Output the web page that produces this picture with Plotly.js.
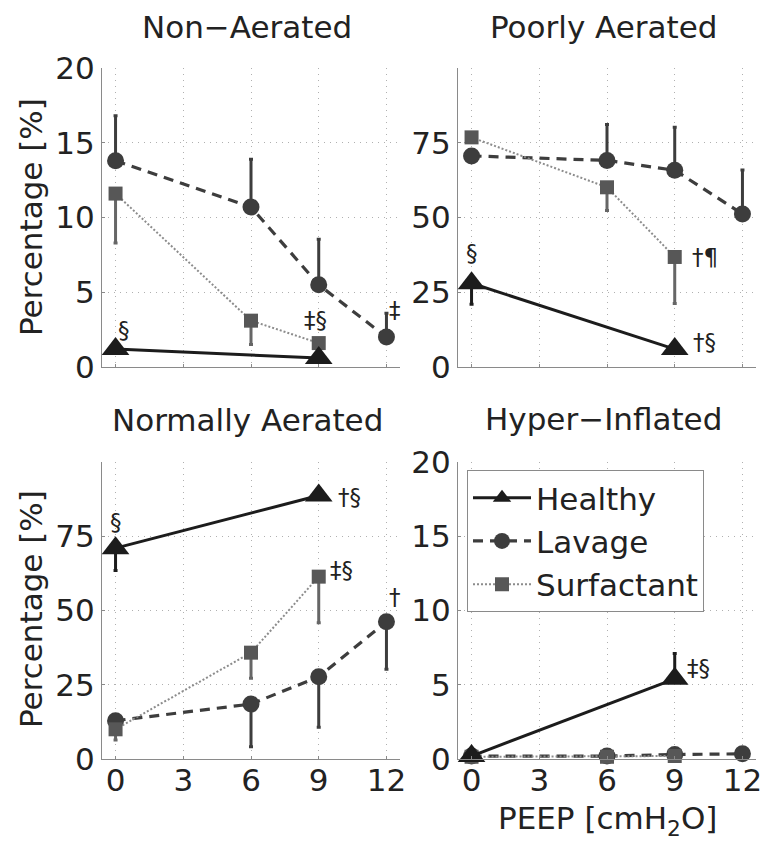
<!DOCTYPE html>
<html>
<head>
<meta charset="utf-8">
<script src="https://cdn.plot.ly/plotly-3.0.1.min.js"></script>
<style>html,body{margin:0;padding:0;background:#fff;}#chart{width:765px;height:850px;}</style>
</head>
<body>
<div id="chart"></div>
<script>
// ---------- DATA ----------
const peepLavage = [0, 6, 9, 12];
const peepSurf = [0, 6, 9];
const peepHealthy = [0, 9];
const xTickVals = [0, 3, 6, 9, 12];
const xTickText = ['0', '3', '6', '9', '12'];
const panelTitles = ['Non\u2212Aerated', 'Poorly Aerated', 'Normally Aerated', 'Hyper\u2212Inflated'];
const seriesNames = ['Healthy', 'Lavage', 'Surfactant'];

// Non-Aerated
const naHealthy = [1.2, 0.6];
const naHealthyUp = [0, 0];
const naHealthyDown = [0, 0];
const naLavage = [13.8, 10.7, 5.5, 2.0];
const naLavageUp = [3.0, 3.2, 3.05, 1.6];
const naLavageDown = [0, 0, 0, 0];
const naSurf = [11.6, 3.1, 1.6];
const naSurfUp = [0, 0, 0];
const naSurfDown = [3.3, 1.6, 0];

// Poorly Aerated
const paHealthy = [28, 6];
const paHealthyUp = [0, 0];
const paHealthyDown = [7, 0];
const paLavage = [70.6, 69.1, 65.8, 51.2];
const paLavageUp = [0, 12, 14.4, 14.7];
const paLavageDown = [0, 0, 0, 0];
const paSurf = [76.8, 60.1, 36.8];
const paSurfUp = [0, 0, 0];
const paSurfDown = [0, 7.8, 15.6];

// Normally Aerated
const nHealthy = [71, 88.7];
const nHealthyUp = [0, 0];
const nHealthyDown = [7.5, 0];
const nLavage = [12.9, 18.5, 27.7, 46.2];
const nLavageUp = [0, 0, 0, 0];
const nLavageDown = [0, 14.4, 17, 16];
const nSurf = [10, 35.8, 61.4];
const nSurfUp = [0, 0, 0];
const nSurfDown = [3.6, 8.6, 15.5];

// Hyper-Inflated
const hHealthy = [0.2, 5.4];
const hHealthyUp = [0, 1.7];
const hHealthyDown = [0, 0];
const hLavage = [0.2, 0.2, 0.3, 0.35];
const hLavageUp = [0, 0, 0, 0];
const hLavageDown = [0, 0, 0, 0];
const hSurf = [0.15, 0.15, 0.2];
const hSurfUp = [0, 0, 0];
const hSurfDown = [0, 0, 0];

// significance marks: [panel, x, y, text]
const sigPanel = [1, 1, 1, 1, 2, 2, 2, 3, 3, 3, 3, 4];
const sigX = [0.37, 8.84, 9.63, 12.38, 0.02, 10.34, 10.34, 0.0, 10.38, 10.03, 12.38, 10.04];
const sigY = [2.47, 3.14, -1.07, 3.8, 38.2, 36.9, 8.4, 79.8, 88.2, 63.6, 54.5, 6.1];
const sigText = ['\u00a7', '\u2021\u00a7', '\u2020\u00a7', '\u2021', '\u00a7', '\u2020\u00b6', '\u2020\u00a7', '\u00a7', '\u2020\u00a7', '\u2021\u00a7', '\u2020', '\u2021\u00a7'];

// ---------- STYLE ----------
const FONT = 'DejaVu Sans, Liberation Sans, Arial, sans-serif';
const FS = 31;
const TXT = '#222222';
const cHealthy = '#1c1c1c', cLavage = '#3d3d3d', cSurf = '#575757', cSurfLine = '#8c8c8c';

const panels = [
  {h: naHealthy, hu: naHealthyUp, hd: naHealthyDown, l: naLavage, lu: naLavageUp, ld: naLavageDown, s: naSurf, su: naSurfUp, sd: naSurfDown},
  {h: paHealthy, hu: paHealthyUp, hd: paHealthyDown, l: paLavage, lu: paLavageUp, ld: paLavageDown, s: paSurf, su: paSurfUp, sd: paSurfDown},
  {h: nHealthy, hu: nHealthyUp, hd: nHealthyDown, l: nLavage, lu: nLavageUp, ld: nLavageDown, s: nSurf, su: nSurfUp, sd: nSurfDown},
  {h: hHealthy, hu: hHealthyUp, hd: hHealthyDown, l: hLavage, lu: hLavageUp, ld: hLavageDown, s: hSurf, su: hSurfUp, sd: hSurfDown}
];

const traces = [];
panels.forEach((p, i) => {
  const sfx = i === 0 ? '' : String(i + 1);
  const xa = 'x' + sfx, ya = 'y' + sfx;
  const show = i === 3;
  traces.push({
    type: 'scatter', mode: 'lines+markers', x: peepLavage, y: p.l, xaxis: xa, yaxis: ya,
    name: seriesNames[1], showlegend: show, legendrank: 2, cliponaxis: false,
    line: {color: cLavage, width: 3.2, dash: '10px,7px'},
    marker: {symbol: 'circle', size: 17, color: cLavage},
    error_y: {type: 'data', symmetric: false, array: p.lu, arrayminus: p.ld, color: cLavage, thickness: 3, width: 2}
  });
  traces.push({
    type: 'scatter', mode: 'lines+markers', x: peepSurf, y: p.s, xaxis: xa, yaxis: ya,
    name: seriesNames[2], showlegend: show, legendrank: 3, cliponaxis: false,
    line: {color: cSurfLine, width: 2, dash: '2px,2px'},
    marker: {symbol: 'square', size: 14, color: cSurf},
    error_y: {type: 'data', symmetric: false, array: p.su, arrayminus: p.sd, color: '#666666', thickness: 3, width: 2}
  });
  traces.push({
    type: 'scatter', mode: 'lines+markers', x: peepHealthy, y: p.h, xaxis: xa, yaxis: ya,
    name: seriesNames[0], showlegend: show, legendrank: 1, cliponaxis: false,
    line: {color: cHealthy, width: 3},
    marker: {symbol: 'triangle-up', size: 24, color: cHealthy},
    error_y: {type: 'data', symmetric: false, array: p.hu, arrayminus: p.hd, color: cHealthy, thickness: 3, width: 2}
  });
});

function xax(domain, labels) {
  return {
    domain: domain, range: [-0.6, 12.6], tickvals: xTickVals, ticktext: xTickText,
    showticklabels: labels, showline: true, linecolor: '#8a8a8a', linewidth: 1, mirror: false,
    zeroline: false, showgrid: true, gridcolor: '#b0b0b0', griddash: '1px,5px', gridwidth: 1,
    ticks: 'inside', ticklen: 3, tickcolor: '#8a8a8a', ticklabelstandoff: -6,
    tickfont: {family: FONT, size: FS, color: TXT}, fixedrange: true
  };
}
function yax(domain, range, ticks, anchor) {
  return {
    domain: domain, range: range, tickvals: ticks, ticktext: ticks.map(String), anchor: anchor,
    showline: true, linecolor: '#8a8a8a', linewidth: 1, mirror: false,
    zeroline: false, showgrid: true, gridcolor: '#b0b0b0', griddash: '1px,5px', gridwidth: 1,
    ticks: 'inside', ticklen: 3, tickcolor: '#8a8a8a',
    tickfont: {family: FONT, size: FS, color: TXT}, fixedrange: true
  };
}

const W = 765, H = 850;
const dL = [102 / W, 400 / W], dR = [458 / W, 756 / W];
const dT = [(H - 367) / H, (H - 68) / H], dB = [(H - 759) / H, (H - 462) / H];

const annotations = [];
const titlePos = [[247, 27.5], [603, 27.5], [247, 420], [603, 419]];
panelTitles.forEach((t, i) => {
  annotations.push({xref: 'paper', yref: 'paper', x: titlePos[i][0] / W, y: 1 - titlePos[i][1] / H,
    xanchor: 'center', yanchor: 'middle', text: t, showarrow: false,
    font: {family: FONT, size: FS, color: TXT}});
});
[[31, 217], [31, 609]].forEach(pos => {
  annotations.push({xref: 'paper', yref: 'paper', x: pos[0] / W, y: 1 - pos[1] / H,
    xanchor: 'center', yanchor: 'middle', text: 'Percentage [%]', textangle: -90, showarrow: false,
    font: {family: FONT, size: FS, color: TXT}});
});
annotations.push({xref: 'paper', yref: 'paper', x: 607 / W, y: 1 - 820 / H, xanchor: 'center', yanchor: 'middle',
  text: 'PEEP [cmH<sub>2</sub>O]', showarrow: false, font: {family: FONT, size: FS, color: TXT}});
sigText.forEach((t, i) => {
  const sfx = sigPanel[i] === 1 ? '' : String(sigPanel[i]);
  annotations.push({xref: 'x' + sfx, yref: 'y' + sfx, x: sigX[i], y: sigY[i], text: t,
    xanchor: 'center', yanchor: 'middle', showarrow: false,
    font: {family: FONT, size: 23, color: TXT}});
});

const layout = {
  width: W, height: H, margin: {l: 0, r: 0, t: 0, b: 0},
  paper_bgcolor: '#ffffff', plot_bgcolor: '#ffffff',
  font: {family: FONT, size: FS, color: TXT},
  xaxis: Object.assign(xax(dL, false), {anchor: 'y'}),
  xaxis2: Object.assign(xax(dR, false), {anchor: 'y2'}),
  xaxis3: Object.assign(xax(dL, true), {anchor: 'y3'}),
  xaxis4: Object.assign(xax(dR, true), {anchor: 'y4'}),
  yaxis: yax(dT, [0, 20], [0, 5, 10, 15, 20], 'x'),
  yaxis2: yax(dT, [0, 100], [0, 25, 50, 75], 'x2'),
  yaxis3: yax(dB, [0, 100], [0, 25, 50, 75], 'x3'),
  yaxis4: yax(dB, [0, 20], [0, 5, 10, 15, 20], 'x4'),
  showlegend: true,
  legend: {x: 467 / W, y: 1 - 470 / H, xanchor: 'left', yanchor: 'top',
    bgcolor: '#ffffff', bordercolor: '#8a8a8a', borderwidth: 1, itemwidth: 58,
    font: {family: FONT, size: FS, color: TXT}, tracegroupgap: 0},
  annotations: annotations
};

Plotly.newPlot('chart', traces, layout, {displayModeBar: false, staticPlot: true});
</script>
</body>
</html>
